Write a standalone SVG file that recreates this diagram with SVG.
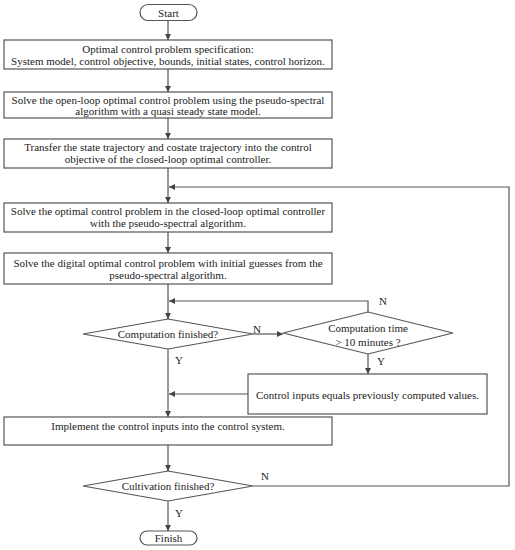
<svg xmlns="http://www.w3.org/2000/svg" width="515" height="550" viewBox="0 0 515 550">
<defs>
<marker id="ah" markerWidth="6" markerHeight="6" refX="6" refY="3" orient="auto" markerUnits="userSpaceOnUse">
<path d="M0,0 L6,3 L0,6 Z" fill="#444"/>
</marker>
<style>
.box{fill:#fff;stroke:#555;stroke-width:1.2}
.t{font-family:"Liberation Serif","Times New Roman",serif;font-size:11px;fill:#222;text-anchor:middle;dominant-baseline:central}
.c{fill:none;stroke:#555;stroke-width:1.2}
.ca{fill:none;stroke:#555;stroke-width:1.2;marker-end:url(#ah)}
</style>
</defs>
<rect width="515" height="550" fill="#fff"/>
<g id="connectors">
<line class="ca" x1="168" y1="21" x2="168" y2="40"/>
<line class="ca" x1="168" y1="69" x2="168" y2="92"/>
<line class="ca" x1="168" y1="118" x2="168" y2="139"/>
<line class="ca" x1="168" y1="168" x2="168" y2="203"/>
<line class="ca" x1="168" y1="232" x2="168" y2="253"/>
<line class="ca" x1="168" y1="284" x2="168" y2="319"/>
<line class="ca" x1="168" y1="349" x2="168" y2="417"/>
<line class="ca" x1="168" y1="445" x2="168" y2="471"/>
<line class="ca" x1="168" y1="501" x2="168" y2="531"/>
<line class="ca" x1="253" y1="334" x2="283" y2="334"/>
<polyline class="ca" points="368,312 368,301 169,301"/>
<line class="ca" x1="368" y1="354" x2="368" y2="374"/>
<line class="ca" x1="248" y1="394" x2="169" y2="394"/>
<polyline class="ca" points="253,486 509,486 509,187 169,187"/>
</g>
<g id="start">
<rect class="box" x="140" y="4.5" width="57" height="16" rx="8"/>
<text class="t" x="168.5" y="12.5">Start</text>
</g>
<g id="spec">
<rect class="box" x="4" y="40" width="328" height="29"/>
<text class="t" x="168" y="48.5">Optimal control problem specification:</text>
<text class="t" x="168" y="61">System model, control objective, bounds, initial states, control horizon.</text>
</g>
<g id="openloop">
<rect class="box" x="4" y="92" width="328" height="26"/>
<text class="t" x="168" y="99.5">Solve the open-loop optimal control problem using the pseudo-spectral</text>
<text class="t" x="168" y="111">algorithm with a quasi steady state model.</text>
</g>
<g id="transfer">
<rect class="box" x="4" y="139" width="328" height="29"/>
<text class="t" x="168" y="147">Transfer the state trajectory and costate trajectory into the control</text>
<text class="t" x="168" y="158.5">objective of the closed-loop optimal controller.</text>
</g>
<g id="closedloop">
<rect class="box" x="4" y="203" width="328" height="29"/>
<text class="t" x="168" y="211">Solve the optimal control problem in the closed-loop optimal controller</text>
<text class="t" x="168" y="222.5">with the pseudo-spectral algorithm.</text>
</g>
<g id="digital">
<rect class="box" x="4" y="253" width="328" height="31"/>
<text class="t" x="168" y="263">Solve the digital optimal control problem with initial guesses from the</text>
<text class="t" x="168" y="274.5">pseudo-spectral algorithm.</text>
</g>
<g id="compfinished">
<polygon class="box" points="83,334 168,319 253,334 168,349"/>
<text class="t" x="168" y="334">Computation finished?</text>
<text class="t" x="257" y="328.5">N</text>
<text class="t" x="179" y="359.5">Y</text>
</g>
<g id="comptime">
<polygon class="box" points="283,333 368,312 453,333 368,354"/>
<text class="t" x="368" y="327.5">Computation time</text>
<text class="t" x="368" y="342">&gt; 10 minutes ?</text>
<text class="t" x="383" y="300.5">N</text>
<text class="t" x="381" y="361">Y</text>
</g>
<g id="previous">
<rect class="box" x="248" y="374" width="239" height="40"/>
<text class="t" x="367.5" y="394.5">Control inputs equals previously computed values.</text>
</g>
<g id="implement">
<rect class="box" x="4" y="417" width="328" height="28"/>
<text class="t" x="168" y="426">Implement the control inputs into the control system.</text>
</g>
<g id="cultfinished">
<polygon class="box" points="83,486 168,471 253,486 168,501"/>
<text class="t" x="168" y="486">Cultivation finished?</text>
<text class="t" x="265" y="475.5">N</text>
<text class="t" x="179" y="513">Y</text>
</g>
<g id="finish">
<rect class="box" x="140" y="531" width="57" height="14" rx="7"/>
<text class="t" x="168.5" y="538">Finish</text>
</g>
</svg>
